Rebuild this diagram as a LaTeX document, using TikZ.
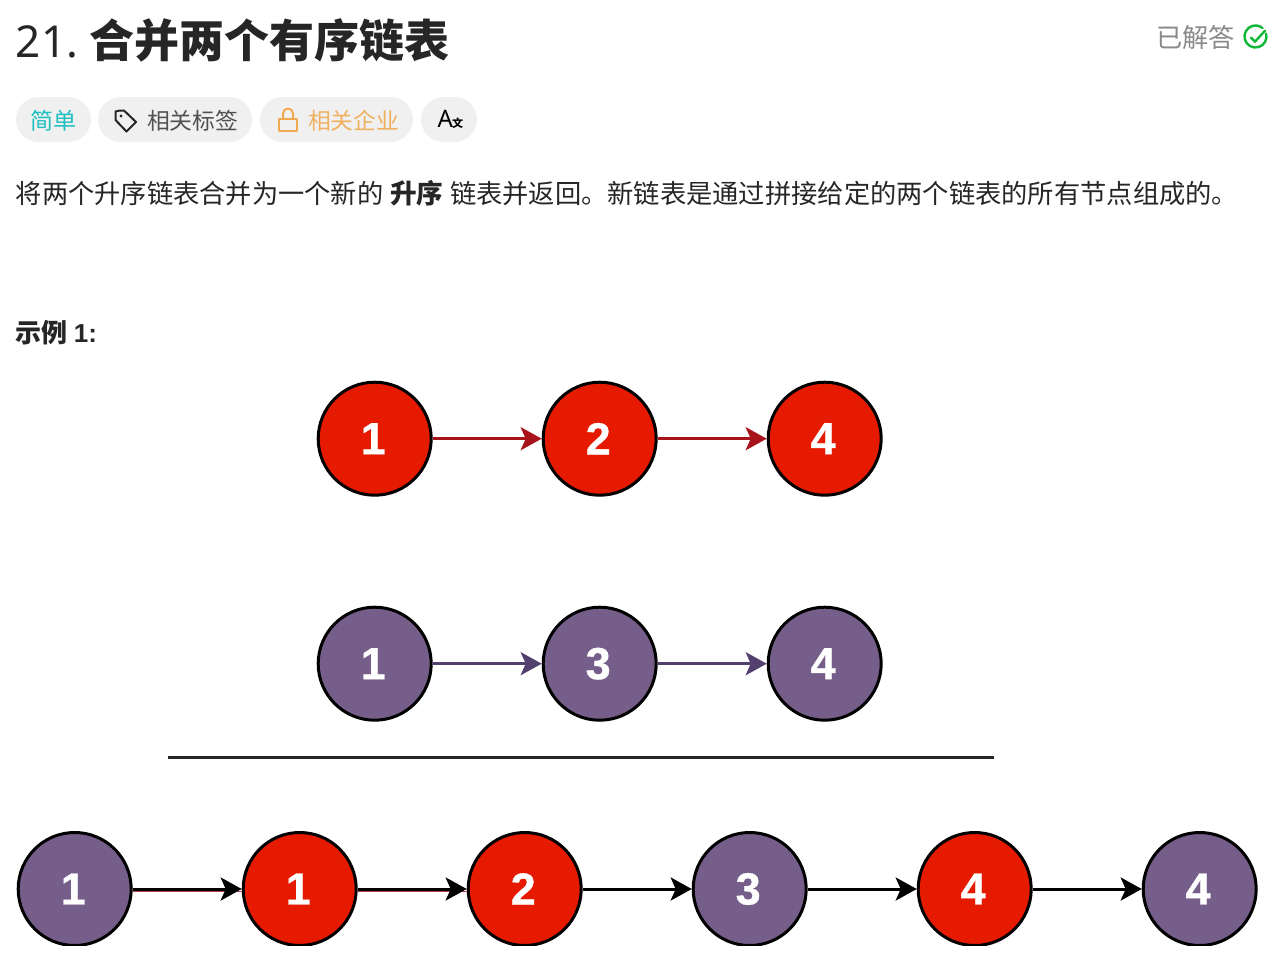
\documentclass[tikz,border=0pt]{standalone}
\usepackage{fontspec}
\usetikzlibrary{arrows.meta}
\setmainfont{Noto Sans CJK SC}
\newfontfamily\numfont[BoldFeatures={FakeBold=0.8}]{Liberation Sans}
\newfontfamily\exfont{Liberation Sans}
\newfontfamily\latinfont{Noto Sans}
\definecolor{redfill}{HTML}{E61A00}
\definecolor{purplefill}{HTML}{765E8A}
\definecolor{redline}{HTML}{A8141C}
\definecolor{purpleline}{HTML}{54406E}
\definecolor{pillbg}{HTML}{F0F0F0}
\definecolor{inkdark}{HTML}{262626}
\definecolor{greytext}{HTML}{8A8A8A}
\definecolor{tealtext}{HTML}{1FBFBF}
\definecolor{ambertext}{HTML}{EFB060}
\definecolor{doneicon}{HTML}{10B838}
\newcommand{\dg}[1]{\hspace*{-3pt}#1}
\tikzset{
  x=1pt,y=-1pt,
  listnode/.style={circle,draw=black,line width=3pt,minimum size=113pt,inner sep=0pt,text=white,font=\numfont\bfseries\fontsize{45}{45}\selectfont},
  rednode/.style={listnode,fill=redfill},
  purplenode/.style={listnode,fill=purplefill},
  linkarrow/.style={line width=3pt,-{Stealth[length=21pt,width=23pt,inset=5pt]},shorten >=0pt,shorten <=0pt},
  pill/.style={fill=pillbg,rounded corners=22.5pt},
  txt/.style={anchor=base west,inner sep=0pt,outer sep=0pt},
  iconline/.style={line width=2pt,line cap=round,line join=round}
}
\begin{document}
\begin{tikzpicture}
\useasboundingbox (0,0) rectangle (1278,964);
\fill[white] (0,0) rectangle (1278,964);
% header
\node[txt,text=inkdark,font=\latinfont\fontsize{44}{44}\selectfont] (num) at (16,57) {21.};
\node[txt,text=inkdark,font=\bfseries\fontsize{45}{46}\selectfont] (title) at (89.5,57.5) {合并两个有序链表};
\node[txt,text=greytext,font=\fontsize{26.2}{27}\selectfont] (done) at (1156.5,47) {已解答};
\draw[doneicon,iconline,line width=2.4pt] (1266.1,33.65) arc[start angle=-15,end angle=310,radius=11];
\draw[doneicon,iconline,line width=2.4pt] (1251,37.7) -- (1255,41.7) -- (1265,30.7);
% pills
\fill[pill] (16,97) rectangle (91,142);
\fill[pill] (98,97) rectangle (252,142);
\fill[pill] (260,97) rectangle (413,142);
\fill[pill] (421,97) rectangle (477,142);
\node[txt,text=tealtext,font=\fontsize{23}{23}\selectfont] (easy) at (30.5,129.7) {简单};
\node[txt,text=inkdark!80,font=\fontsize{22.8}{23}\selectfont] (tags) at (147,129.7) {相关标签};
\node[txt,text=ambertext,font=\fontsize{22.8}{23}\selectfont] (comp) at (308,129.7) {相关企业};
\node[txt,text=black,font=\latinfont\fontsize{24}{24}\selectfont] (axa) at (437.5,127) {A};
\node[txt,text=black,font=\bfseries\fontsize{11}{11}\selectfont] (axb) at (452,127.5) {文};
% tag icon
\draw[inkdark,iconline] (115.5,115.5) -- (115.5,111.5) -- (120,110.5) -- (124,110.5) -- (136,122) -- (126.5,131.5) -- (115.5,120) -- cycle;
\fill[inkdark] (121,116) circle[radius=1.7];
% lock icon
\draw[ambertext!85!orange,iconline] (279,118.5) rectangle (297,131);
\draw[ambertext!85!orange,iconline] (283,118.5) -- (283,113.5) arc[start angle=180,end angle=360,radius=5] -- (293,118.5);
% body
\node[txt,text=inkdark,font=\fontsize{26.25}{27}\selectfont] (d1) at (16,203) {将两个升序链表合并为一个新的};
\node[txt,text=inkdark,font=\bfseries\fontsize{26.6}{27}\selectfont] (d2) at (390,203) {升序};
\node[txt,text=inkdark,font=\fontsize{26.27}{27}\selectfont] (d3) at (450,203) {链表并返回。新链表是通过拼接给定的两个链表的所有节点组成的。};
\node[txt,text=inkdark,font=\bfseries\fontsize{26}{27}\selectfont] (ex) at (16,342) {示例 {\exfont\bfseries 1:}};
% row 1
\node[rednode] (a1) at (374.7,438.7) {\dg{1}};
\node[rednode] (a2) at (599.7,438.7) {\dg{2}};
\node[rednode] (a3) at (824.7,438.7) {\dg{4}};
\draw[linkarrow,redline] (a1) -- (a2);
\draw[linkarrow,redline] (a2) -- (a3);
% row 2
\node[purplenode] (b1) at (374.7,663.7) {\dg{1}};
\node[purplenode] (b2) at (599.7,663.7) {\dg{3}};
\node[purplenode] (b3) at (824.7,663.7) {\dg{4}};
\draw[linkarrow,purpleline] (b1) -- (b2);
\draw[linkarrow,purpleline] (b2) -- (b3);
% divider
\coordinate (divl) at (168,757.5);
\coordinate (divr) at (994,757.5);
\draw[line width=3.6pt,inkdark] (divl) -- (divr);
% row 3
\node[purplenode] (c1) at (74.7,889) {\dg{1}};
\node[rednode] (c2) at (299.7,889) {\dg{1}};
\node[rednode] (c3) at (524.7,889) {\dg{2}};
\node[purplenode] (c4) at (749.7,889) {\dg{3}};
\node[rednode] (c5) at (974.7,889) {\dg{4}};
\node[purplenode] (c6) at (1199.7,889) {\dg{4}};
\draw[redline!80,line width=1pt] ([yshift=-2.2pt]c1.east) -- ([yshift=-2.2pt]c2.west);
\draw[redline!80,line width=1pt] ([yshift=-2.2pt]c2.east) -- ([yshift=-2.2pt]c3.west);
\draw[linkarrow,black] (c1) -- (c2);
\draw[linkarrow,black] (c2) -- (c3);
\draw[linkarrow,black] (c3) -- (c4);
\draw[linkarrow,black] (c4) -- (c5);
\draw[linkarrow,black] (c5) -- (c6);
\fill[white] (0,945.5) rectangle (1278,964);
\end{tikzpicture}
\end{document}
